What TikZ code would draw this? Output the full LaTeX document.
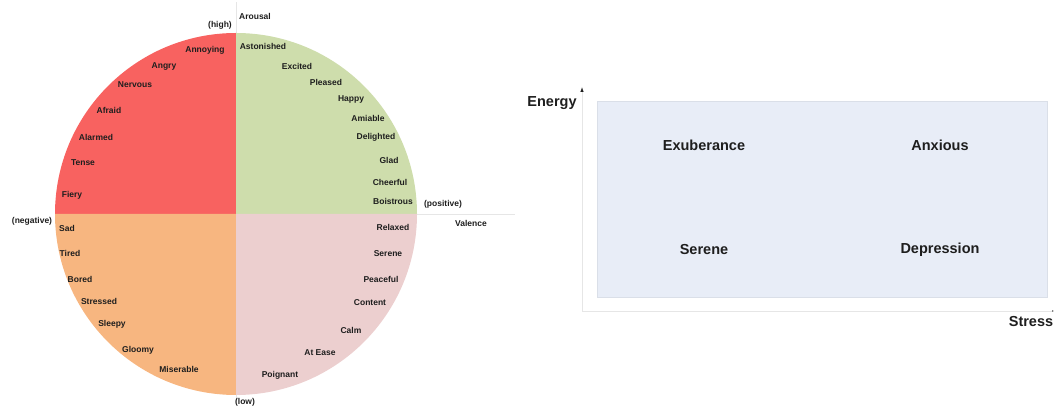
\documentclass[tikz,border=0pt]{standalone}
\usepackage{fontspec}
\setmainfont{Liberation Sans}
\usepackage{xcolor}
\usetikzlibrary{math,arrows.meta}

\definecolor{qred}{RGB}{248,98,96}
\definecolor{qgreen}{RGB}{206,221,172}
\definecolor{qorange}{RGB}{247,182,128}
\definecolor{qpink}{RGB}{236,207,207}
\definecolor{boxfill}{RGB}{232,237,247}
\definecolor{boxline}{RGB}{218,223,232}
\definecolor{axisgray}{RGB}{230,230,230}
\definecolor{txt}{RGB}{30,30,30}

\begin{document}
\begin{tikzpicture}[x=1pt,y=1pt]

\tikzmath{
	\R = 181;
}

\tikzset{emo/.style={
    font=\fontsize{8.5}{10}\selectfont\bfseries,
    text=txt,
    inner sep=0pt
  },
  big/.style={
    font=\fontsize{14.5}{17}\selectfont\bfseries,
    text=txt,
    inner sep=0pt
  },
  axisline/.style={draw=axisgray, line width=0.8pt}
}

\useasboundingbox (0,0) rectangle (1055,407);

% circle model
\coordinate (c) at (236,193);
\coordinate (vtop) at (236,405);
\coordinate (vbot) at (236,2);
\coordinate (hend) at (515,193);
\draw[axisline] (vbot) -- (vtop);
\draw[axisline] (c) -- (hend);

\fill[qred] (c) -- ++(0,\R) arc[start angle=90, end angle=180, radius=\R] -- cycle;
\fill[qgreen] (c) -- ++(\R,0) arc[start angle=0, end angle=90, radius=\R] -- cycle;
\fill[qorange] (c) -- ++(-\R,0) arc[start angle=180, end angle=270, radius=\R] -- cycle;
\fill[qpink] (c) -- ++(0,-\R) arc[start angle=270, end angle=360, radius=\R] -- cycle;

\node[emo] (arousal) at (255,391) {Arousal};
\node[emo] (high) at (220,382) {(high)};
\node[emo] (low) at (245,5) {(low)};
\node[emo] (valence) at (471,184) {Valence};
\node[emo] (positive) at (443,203) {(positive)};
\node[emo] (negative) at (32,186) {(negative)};

% top left
\node[emo] (annoying) at (205,357) {Annoying};
\node[emo] (angry) at (164,341) {Angry};
\node[emo] (nervous) at (135,322) {Nervous};
\node[emo] (afraid) at (109,297) {Afraid};
\node[emo] (alarmed) at (96,270) {Alarmed};
\node[emo] (tense) at (83,244) {Tense};
\node[emo] (fiery) at (72,212) {Fiery};

% top right
\node[emo] (astonished) at (263,361) {Astonished};
\node[emo] (excited) at (297,341) {Excited};
\node[emo] (pleased) at (326,325) {Pleased};
\node[emo] (happy) at (351,308) {Happy};
\node[emo] (amiable) at (368,289) {Amiable};
\node[emo] (delighted) at (376,270) {Delighted};
\node[emo] (glad) at (389,247) {Glad};
\node[emo] (cheerful) at (390,225) {Cheerful};
\node[emo] (boistrous) at (393,206) {Boistrous};

% bottom left
\node[emo] (sad) at (67,179) {Sad};
\node[emo] (tired) at (70,154) {Tired};
\node[emo] (bored) at (80,128) {Bored};
\node[emo] (stressed) at (99,106) {Stressed};
\node[emo] (sleepy) at (112,83) {Sleepy};
\node[emo] (gloomy) at (138,57) {Gloomy};
\node[emo] (miserable) at (179,38) {Miserable};

% bottom right
\node[emo] (relaxed) at (393,180) {Relaxed};
\node[emo] (serene) at (388,153) {Serene};
\node[emo] (peaceful) at (381,128) {Peaceful};
\node[emo] (content) at (370,104) {Content};
\node[emo] (calm) at (351,77) {Calm};
\node[emo] (atease) at (320,54) {At Ease};
\node[emo] (poignant) at (280,32) {Poignant};

% energy / stress model
\coordinate (o) at (582,96);
\coordinate (ytip) at (582,320);
\coordinate (xtip) at (1054,96);
\draw[axisline, -{Latex[length=5pt,width=3.5pt,color=txt]}] (o) -- (ytip);
\draw[axisline, -{Latex[length=2pt,width=2pt,color=txt!60]}] (o) -- (xtip);

\draw[fill=boxfill, draw=boxline, line width=0.6pt] (597,110) rectangle (1047,306);

\node[big] (energy) at (552,304) {Energy};
\node[big] (stress) at (1031,85) {Stress};
\node[big] (exuberance) at (704,262) {Exuberance};
\node[big] (anxious) at (940,262) {Anxious};
\node[big] (serene2) at (704,157) {Serene};
\node[big] (depression) at (940,157) {Depression};

\end{tikzpicture}
\end{document}
